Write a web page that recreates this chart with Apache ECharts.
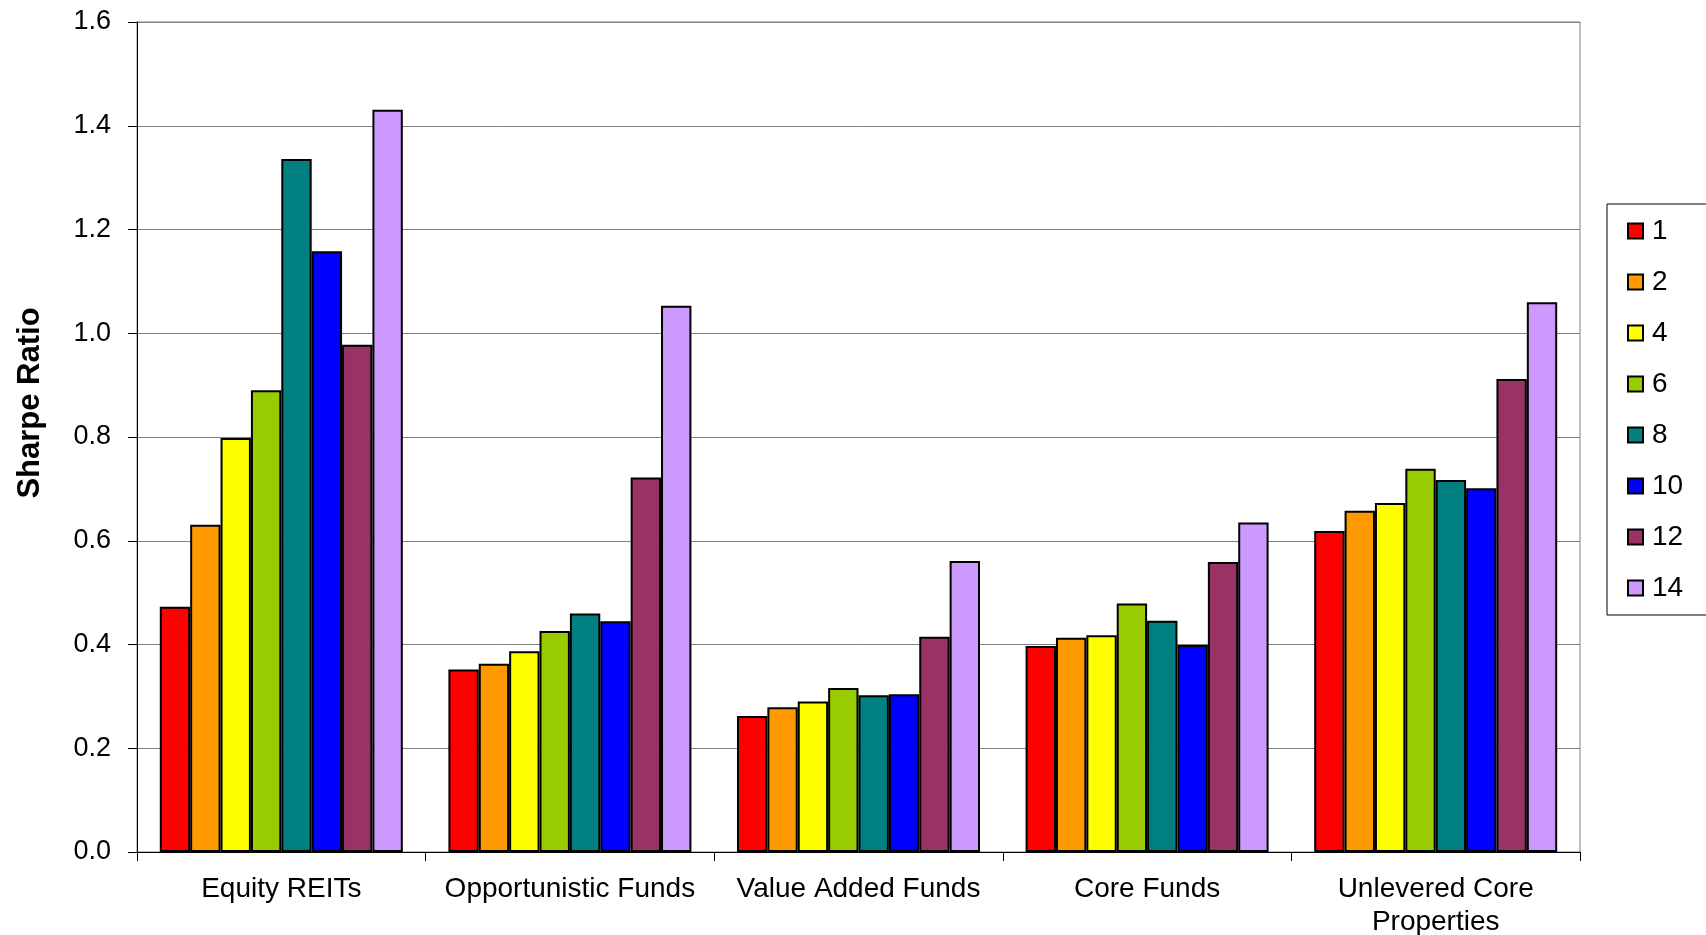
<!DOCTYPE html>
<html>
<head>
<meta charset="utf-8">
<script src="https://cdn.jsdelivr.net/npm/echarts@6/dist/echarts.min.js"></script>
<style>
  html, body { margin: 0; padding: 0; background: #fff; }
  #chart { width: 1706px; height: 935px; }
</style>
</head>
<body>
<div id="chart"></div>
<script>
const categories = ['Equity REITs', 'Opportunistic Funds', 'Value Added Funds', 'Core Funds', 'Unlevered Core\nProperties']
const seriesNames = ['1', '2', '4', '6', '8', '10', '12', '14']
const colors = ['#ff0000', '#ff9900', '#ffff00', '#99cc00', '#008080', '#0000ff', '#993366', '#cc99ff']

// one array per horizon, values per category
const h1 = [0.473, 0.352, 0.262, 0.397, 0.619]
const h2 = [0.631, 0.363, 0.279, 0.413, 0.658]
const h4 = [0.798, 0.387, 0.290, 0.418, 0.673]
const h6 = [0.890, 0.426, 0.316, 0.479, 0.739]
const h8 = [1.336, 0.460, 0.302, 0.446, 0.717]
const h10 = [1.158, 0.445, 0.304, 0.399, 0.701]
const h12 = [0.978, 0.722, 0.415, 0.559, 0.912]
const h14 = [1.431, 1.053, 0.561, 0.635, 1.060]
const values = [h1, h2, h4, h6, h8, h10, h12, h14]

const yTicks = { min: 0, max: 1.6, interval: 0.2 }

const font = '"Liberation Sans", Arial, sans-serif'

const chart = echarts.init(document.getElementById('chart'))

const series = seriesNames.map((name, i) => ({
  name: name,
  type: 'bar',
  data: values[i],
  barGap: '0%',
  barCategoryGap: '15.8%',
  itemStyle: {
    color: colors[i],
    borderColor: '#000',
    borderWidth: 2
  },
  emphasis: { disabled: true }
}))

chart.setOption({
  animation: false,
  backgroundColor: '#fff',
  textStyle: { fontFamily: font },
  grid: {
    left: 137, right: 126, top: 22, bottom: 83,
    containLabel: false,
    outerBoundsMode: 'none',
    show: true, borderColor: '#808080', borderWidth: 1
  },
  legend: {
    orient: 'vertical',
    left: 1607,
    top: 204,
    padding: [13, 60, 13, 20],
    borderColor: '#000',
    borderWidth: 1,
    itemWidth: 15,
    itemHeight: 15,
    itemGap: 23,
    icon: 'rect',
    textStyle: { fontSize: 28, color: '#000', fontFamily: font, padding: [0, 0, 0, 4] },
    data: seriesNames
  },
  xAxis: {
    type: 'category',
    data: categories,
    axisLine: { lineStyle: { color: '#000', width: 1 } },
    axisTick: { show: true, length: 9, lineStyle: { color: '#000' } },
    axisLabel: { fontSize: 28, color: '#000', margin: 21, lineHeight: 33, interval: 0 },
    splitLine: { show: false }
  },
  yAxis: {
    type: 'value',
    min: yTicks.min,
    max: yTicks.max,
    interval: yTicks.interval,
    name: 'Sharpe Ratio',
    nameLocation: 'middle',
    nameGap: 91,
    nameTextStyle: {
      fontSize: 31, fontWeight: 'bold', color: '#000', fontFamily: font,
      padding: [0, 0, 0, 68]
    },
    axisLine: { show: true, lineStyle: { color: '#000', width: 1 } },
    axisTick: { show: true, length: 9, lineStyle: { color: '#000' } },
    axisLabel: {
      fontSize: 27, color: '#000', margin: 26,
      formatter: v => v.toFixed(1)
    },
    splitLine: { show: true, lineStyle: { color: '#808080', width: 1 } }
  },
  series: series
})
</script>
</body>
</html>
